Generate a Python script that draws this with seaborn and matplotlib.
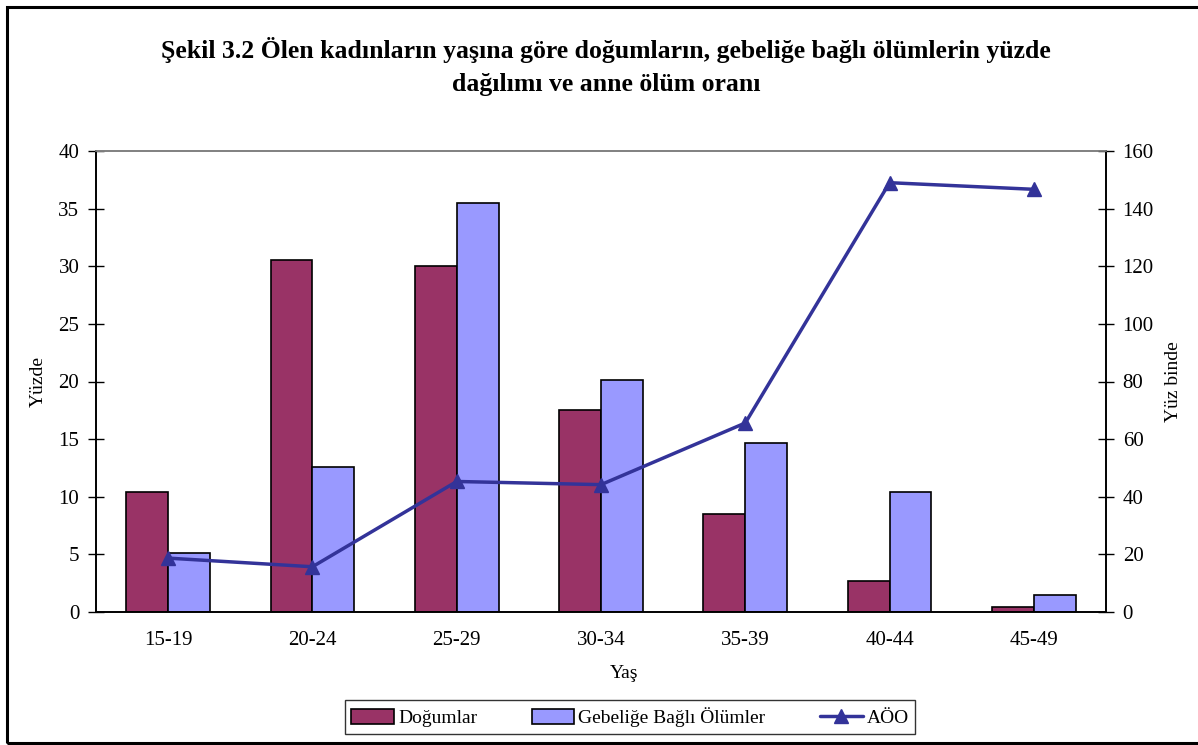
import matplotlib
matplotlib.use("Agg")
import matplotlib.pyplot as plt
import seaborn as sns
import pandas as pd
import numpy as np
from matplotlib.patches import Patch, Rectangle
from matplotlib.lines import Line2D

categories = ["15-19", "20-24", "25-29", "30-34", "35-39", "40-44", "45-49"]
dogumlar = [10.4, 30.5, 30.0, 17.5, 8.5, 2.7, 0.4]
gebelik = [5.1, 12.6, 35.5, 20.1, 14.7, 10.4, 1.5]
aoo = [18.7, 15.7, 45.3, 44.2, 65.6, 149.0, 146.7]

series_names = ["Doğumlar", "Gebeliğe Bağlı Ölümler"]
bar_colors = ["#993366", "#9999FF"]
line_color = "#333399"

sns.set_theme(style="white")
plt.rcParams['font.family'] = ['Liberation Serif', 'DejaVu Serif']
plt.rcParams['text.color'] = 'black'
plt.rcParams['axes.labelcolor'] = 'black'
plt.rcParams['xtick.color'] = 'black'
plt.rcParams['ytick.color'] = 'black'

df = pd.DataFrame({
    "Yaş": categories * 2,
    "Değer": dogumlar + gebelik,
    "Seri": [series_names[0]] * len(categories) + [series_names[1]] * len(categories),
})

W, H = 1198, 745
fig = plt.figure(figsize=(W / 100, H / 100), dpi=100)
ax = fig.add_axes([96 / W, 1 - 612 / H, (1106 - 96) / W, (612 - 151) / H])

sns.barplot(data=df, x="Yaş", y="Değer", hue="Seri", palette=bar_colors,
            width=0.58, gap=0, edgecolor="black", linewidth=1.2,
            saturation=1, ax=ax, legend=False)

ax2 = ax.twinx()
xpos = np.arange(len(categories))
ax2.plot(xpos, aoo, color=line_color, linewidth=2.5, marker="^",
         markersize=10, markerfacecolor=line_color, markeredgecolor=line_color)

ax.set_xlim(-0.5, len(categories) - 0.5)
ax.set_ylim(0, 40)
ax2.set_ylim(0, 160)
ax.set_yticks(np.arange(0, 41, 5))
ax2.set_yticks(np.arange(0, 161, 20))

# category boundary ticks
ax.set_xticks(xpos)
ax.set_xticklabels(categories, fontsize=15)
ax.tick_params(axis="x", which="major", length=0, pad=14)
ax.set_xticks(np.arange(-0.5, len(categories), 1), minor=True)
ax.tick_params(axis="x", which="minor", length=7, width=1, direction="out", color="black")

ax.tick_params(axis="y", direction="inout", length=12, width=1, color="black", labelsize=15, pad=6)
ax2.tick_params(axis="y", direction="inout", length=12, width=1, color="black", labelsize=15, pad=6)

for a in (ax, ax2):
    a.spines["top"].set_color("#808080")
    a.spines["top"].set_linewidth(1.2)
    for s in ("left", "right", "bottom"):
        a.spines[s].set_color("black")
        a.spines[s].set_linewidth(1.2)

ax.set_xlabel("Yaş", fontsize=14)
ax.set_ylabel("Yüzde", fontsize=14, labelpad=8)
ax2.set_ylabel("Yüz binde", fontsize=14, labelpad=8)
ax.xaxis.set_label_coords(0.523, -0.115)

fig.text(606 / W, 1 - 50 / H, "Şekil 3.2 Ölen kadınların yaşına göre doğumların, gebeliğe bağlı ölümlerin yüzde",
         ha="center", va="center", fontsize=18.5, fontweight="bold")
fig.text(606 / W, 1 - 85 / H, "dağılımı ve anne ölüm oranı",
         ha="center", va="center", fontsize=18.5, fontweight="bold")

handles = [
    Patch(facecolor=bar_colors[0], edgecolor="black", linewidth=1.2, label=series_names[0]),
    Patch(facecolor=bar_colors[1], edgecolor="black", linewidth=1.2, label=series_names[1]),
    Line2D([0], [0], color=line_color, linewidth=2.5, marker="^", markersize=10, label="AÖO"),
]
leg = fig.legend(handles=handles, loc="center", bbox_to_anchor=(630 / W, 1 - 717 / H),
                 ncol=3, frameon=True, fancybox=False, fontsize=14,
                 handlelength=2.2, handleheight=0.8, handletextpad=0.2,
                 columnspacing=2.8, borderpad=0.35)
leg.get_frame().set_edgecolor("black")
leg.get_frame().set_linewidth(1.0)

# outer frame
fig.patches.append(Rectangle((7 / W, 2 / H), 1.2, 1 - 9 / H, transform=fig.transFigure,
                             fill=False, edgecolor="black", linewidth=2.2, zorder=10))

fig.savefig("out.png", dpi=100)
